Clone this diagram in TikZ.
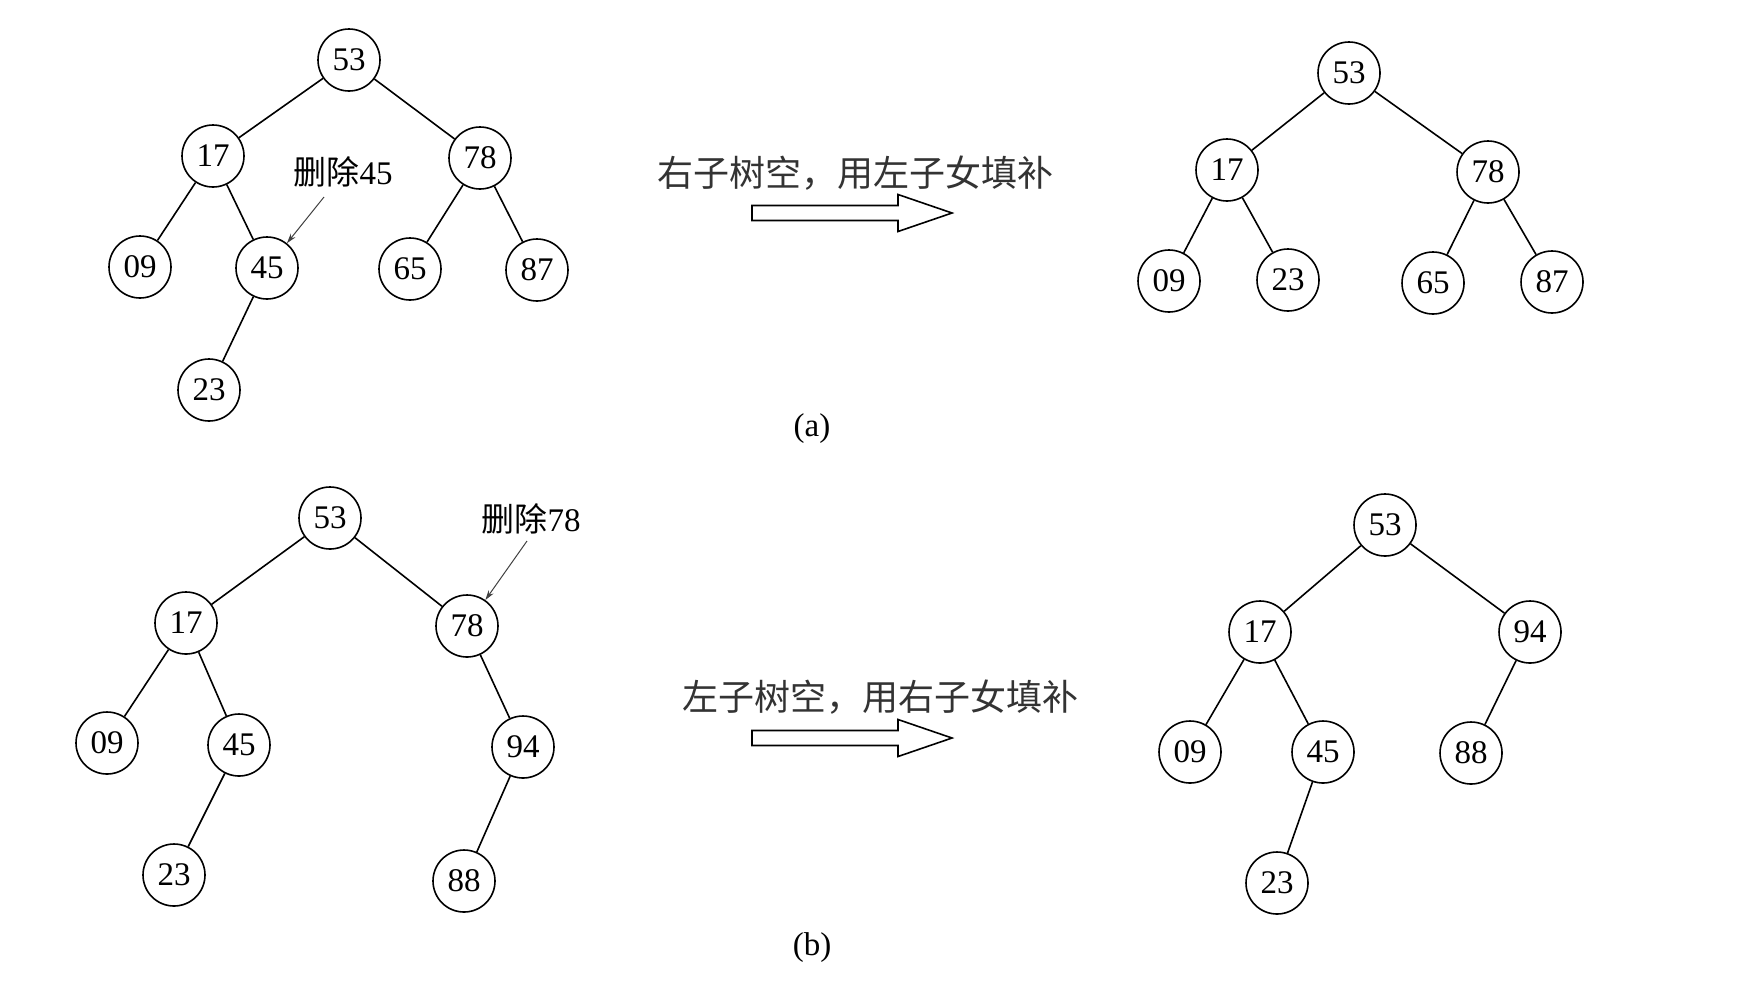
\documentclass[tikz,border=0pt]{standalone}
\usepackage{fontspec}
\setmainfont{Liberation Serif}
\newfontfamily\cjk{Noto Sans CJK SC}
\usetikzlibrary{arrows.meta}

\begin{document}
\begin{tikzpicture}[
    x=0.5pt,y=-0.5pt,
    nd/.style={circle,draw,line width=0.8pt,minimum size=31pt,inner sep=0pt,
      font=\fontsize{16.5}{18}\selectfont},
    tag/.style={font=\fontsize{16.5}{18}\selectfont,inner sep=0pt},
    sublabel/.style={font=\fontsize{16.5}{20}\selectfont,inner sep=0pt},
    say/.style={font=\fontsize{18}{20}\selectfont\cjk,inner sep=0pt,text=black!80},
    pt/.style={-{Stealth[length=5pt,width=3pt]},line width=0.5pt,black!75},
    big/.style={line width=0.8pt}
  ]
  \useasboundingbox (0,0) rectangle (1764,980);

  % (a) before
  \node[nd] (a53) at (349,60) {53};
  \node[nd] (a17) at (213,156) {17};
  \node[nd] (a78) at (480,158) {78};
  \node[nd] (a09) at (140,267) {09};
  \node[nd] (a45) at (267,268) {45};
  \node[nd] (a65) at (410,269) {65};
  \node[nd] (a87) at (537,270) {87};
  \node[nd] (a23) at (209,390) {23};
  \foreach \u/\v in {a53/a17,a53/a78,a17/a09,a17/a45,a78/a65,a78/a87,a45/a23}
    \draw[big] (\u) -- (\v);
  \node[tag] (del45) at (343,172) {{\cjk 删除}45};
  \coordinate (tail45) at (324,197);
  \draw[pt] (tail45) -- (a45);

  % (a) step
  \node[say] (sayA) at (855,173) {右子树空，用左子女填补};
  \coordinate (arrA) at (752,213);
  \draw[big] (arrA) ++(0,-7.5) -- ++(146,0) -- ++(0,-11) -- (952,213)
    -- (898,231.5) -- ++(0,-11) -- ++(-146,0) -- cycle;

  % (a) after
  \node[nd] (c53) at (1349,73) {53};
  \node[nd] (c17) at (1227,170) {17};
  \node[nd] (c78) at (1488,172) {78};
  \node[nd] (c09) at (1169,281) {09};
  \node[nd] (c23) at (1288,280) {23};
  \node[nd] (c65) at (1433,283) {65};
  \node[nd] (c87) at (1552,282) {87};
  \foreach \u/\v in {c53/c17,c53/c78,c17/c09,c17/c23,c78/c65,c78/c87}
    \draw[big] (\u) -- (\v);

  \node[sublabel] (capA) at (812,429) {(a)};

  % (b) before
  \node[nd] (b53) at (330,518) {53};
  \node[nd] (b17) at (186,623) {17};
  \node[nd] (b78) at (467,626) {78};
  \node[nd] (b09) at (107,743) {09};
  \node[nd] (b45) at (239,745) {45};
  \node[nd] (b94) at (523,747) {94};
  \node[nd] (b23) at (174,875) {23};
  \node[nd] (b88) at (464,881) {88};
  \foreach \u/\v in {b53/b17,b53/b78,b17/b09,b17/b45,b45/b23,b78/b94,b94/b88}
    \draw[big] (\u) -- (\v);
  \node[tag] (del78) at (531,519) {{\cjk 删除}78};
  \coordinate (tail78) at (527,541);
  \draw[pt] (tail78) -- (b78);

  % (b) step
  \node[say] (sayB) at (880,697) {左子树空，用右子女填补};
  \coordinate (arrB) at (752,738);
  \draw[big] (arrB) ++(0,-7.5) -- ++(146,0) -- ++(0,-11) -- (952,738)
    -- (898,756.5) -- ++(0,-11) -- ++(-146,0) -- cycle;

  % (b) after
  \node[nd] (d53) at (1385,525) {53};
  \node[nd] (d17) at (1260,632) {17};
  \node[nd] (d94) at (1530,632) {94};
  \node[nd] (d09) at (1190,752) {09};
  \node[nd] (d45) at (1323,752) {45};
  \node[nd] (d88) at (1471,753) {88};
  \node[nd] (d23) at (1277,883) {23};
  \foreach \u/\v in {d53/d17,d53/d94,d17/d09,d17/d45,d45/d23,d94/d88}
    \draw[big] (\u) -- (\v);

  \node[sublabel] (capB) at (812,948) {(b)};
\end{tikzpicture}
\end{document}
